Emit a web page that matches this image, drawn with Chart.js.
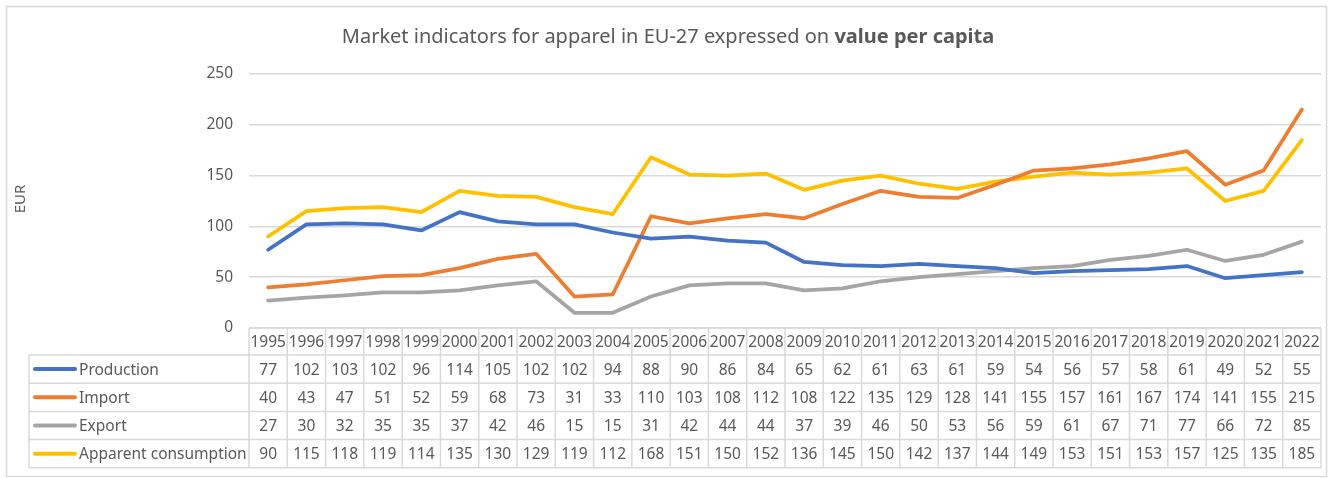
<!DOCTYPE html>
<html>
<head>
<meta charset="utf-8">
<script src="https://cdn.jsdelivr.net/npm/chart.js@4.4.1/dist/chart.umd.min.js"></script>
<style>
  html, body { margin: 0; padding: 0; background: #fff; }
  #wrap { width: 1336px; height: 478px; }
</style>
</head>
<body>
<div id="wrap"><canvas id="apparelChart"></canvas></div>
<script>
const years = ["1995","1996","1997","1998","1999","2000","2001","2002","2003","2004","2005","2006","2007","2008","2009","2010","2011","2012","2013","2014","2015","2016","2017","2018","2019","2020","2021","2022"];
const production = [77, 102, 103, 102, 96, 114, 105, 102, 102, 94, 88, 90, 86, 84, 65, 62, 61, 63, 61, 59, 54, 56, 57, 58, 61, 49, 52, 55];
const importValues = [40, 43, 47, 51, 52, 59, 68, 73, 31, 33, 110, 103, 108, 112, 108, 122, 135, 129, 128, 141, 155, 157, 161, 167, 174, 141, 155, 215];
const exportValues = [27, 30, 32, 35, 35, 37, 42, 46, 15, 15, 31, 42, 44, 44, 37, 39, 46, 50, 53, 56, 59, 61, 67, 71, 77, 66, 72, 85];
const apparentConsumption = [90, 115, 118, 119, 114, 135, 130, 129, 119, 112, 168, 151, 150, 152, 136, 145, 150, 142, 137, 144, 149, 153, 151, 153, 157, 125, 135, 185];
const yTicks = [0, 50, 100, 150, 200, 250];

const FONT = '"Noto Sans", "Open Sans", sans-serif';
const TEXT = '#595959';
const GRID = '#d9d9d9';

// Excel style chart frame, title and axis title
const frameAndTitle = {
    id: 'frameAndTitle',
    beforeDraw(chart) {
        const ctx = chart.ctx;
        ctx.save();
        ctx.fillStyle = '#fff';
        ctx.fillRect(0, 0, chart.width, chart.height);
        ctx.strokeStyle = GRID;
        ctx.lineWidth = 1.5;
        ctx.strokeRect(6.5, 6.5, 1320, 470);

        // title: regular part + bold part
        const part1 = 'Market indicators for apparel in EU-27 expressed on ';
        const part2 = 'value per capita';
        const size = '20px ';
        ctx.font = size + FONT;
        const w1 = ctx.measureText(part1).width;
        ctx.font = 'bold ' + size + FONT;
        const w2 = ctx.measureText(part2).width;
        let x = 668 - (w1 + w2) / 2;
        ctx.fillStyle = TEXT;
        ctx.textBaseline = 'middle';
        ctx.textAlign = 'left';
        ctx.font = size + FONT;
        ctx.fillText(part1, x, 37);
        ctx.font = 'bold ' + size + FONT;
        ctx.fillText(part2, x + w1, 37);

        // y axis title
        ctx.translate(21, 199);
        ctx.rotate(-Math.PI / 2);
        ctx.textAlign = 'center';
        ctx.font = '15px ' + FONT;
        ctx.fillText('EUR', 0, 0);
        ctx.restore();
    }
};

// Data table below the plot, built from the same arrays
const dataTable = {
    id: 'dataTable',
    afterDraw(chart) {
        const ctx = chart.ctx;
        const area = chart.chartArea;
        const xs = chart.scales.x;
        const n = years.length;
        const colW = (area.right - area.left) / n;
        const top = area.bottom;
        const headH = 27;
        const rowH = 28.2;
        const tableLeft = 29;
        const bottom = top + headH + rowH * chart.data.datasets.length;

        ctx.save();
        ctx.strokeStyle = GRID;
        ctx.lineWidth = 1.5;
        ctx.beginPath();
        // horizontal lines
        ctx.moveTo(area.left, top);
        ctx.lineTo(area.right, top);
        for (let r = 0; r <= chart.data.datasets.length; r++) {
            const y = top + headH + rowH * r;
            ctx.moveTo(tableLeft, y);
            ctx.lineTo(area.right, y);
        }
        // vertical lines
        ctx.moveTo(tableLeft, top + headH);
        ctx.lineTo(tableLeft, bottom);
        for (let c = 0; c <= n; c++) {
            const x = area.left + colW * c;
            ctx.moveTo(x, top);
            ctx.lineTo(x, bottom);
        }
        ctx.stroke();

        ctx.fillStyle = TEXT;
        ctx.textBaseline = 'middle';
        ctx.font = '15.5px ' + FONT;
        ctx.textAlign = 'center';
        years.forEach((yr, i) => {
            ctx.fillText(yr, xs.getPixelForValue(i), top + headH / 2 + 1);
        });

        chart.data.datasets.forEach((ds, r) => {
            const cy = top + headH + rowH * r + rowH / 2 + 1;
            // legend key
            ctx.strokeStyle = ds.borderColor;
            ctx.lineWidth = 4;
            ctx.lineCap = 'round';
            ctx.beginPath();
            ctx.moveTo(35, cy - 1);
            ctx.lineTo(75, cy - 1);
            ctx.stroke();
            ctx.textAlign = 'left';
            ctx.fillText(ds.label, 79, cy);
            ctx.textAlign = 'center';
            ds.data.forEach((v, i) => {
                ctx.fillText(String(v), xs.getPixelForValue(i), cy);
            });
        });
        ctx.restore();
    }
};

function series(label, data, color) {
    return {
        label: label,
        data: data,
        borderColor: color,
        backgroundColor: color,
        borderWidth: 3.75,
        pointRadius: 0,
        pointHoverRadius: 0,
        tension: 0,
        borderJoinStyle: 'round',
        borderCapStyle: 'round',
        fill: false
    };
}

new Chart(document.getElementById('apparelChart'), {
    type: 'line',
    data: {
        labels: years,
        datasets: [
            series('Production', production, '#4472C4'),
            series('Import', importValues, '#ED7D31'),
            series('Export', exportValues, '#A5A5A5'),
            series('Apparent consumption', apparentConsumption, '#FFC000')
        ]
    },
    options: {
        responsive: true,
        maintainAspectRatio: false,
        animation: false,
        devicePixelRatio: 1,
        layout: { padding: { left: 0, right: 15, top: 74, bottom: 150 } },
        plugins: {
            legend: { display: false },
            title: { display: false },
            tooltip: { enabled: false }
        },
        scales: {
            x: {
                type: 'category',
                offset: true,
                display: false
            },
            y: {
                min: 0,
                max: 250,
                afterFit(scale) { scale.width = 249; },
                afterBuildTicks(scale) { scale.ticks = yTicks.map(v => ({ value: v })); },
                border: { display: false },
                grid: { color: GRID, lineWidth: 1.5, drawTicks: false },
                ticks: {
                    padding: 16,
                    color: TEXT,
                    font: { family: FONT, size: 15.5 }
                }
            }
        }
    },
    plugins: [frameAndTitle, dataTable]
});
</script>
</body>
</html>
